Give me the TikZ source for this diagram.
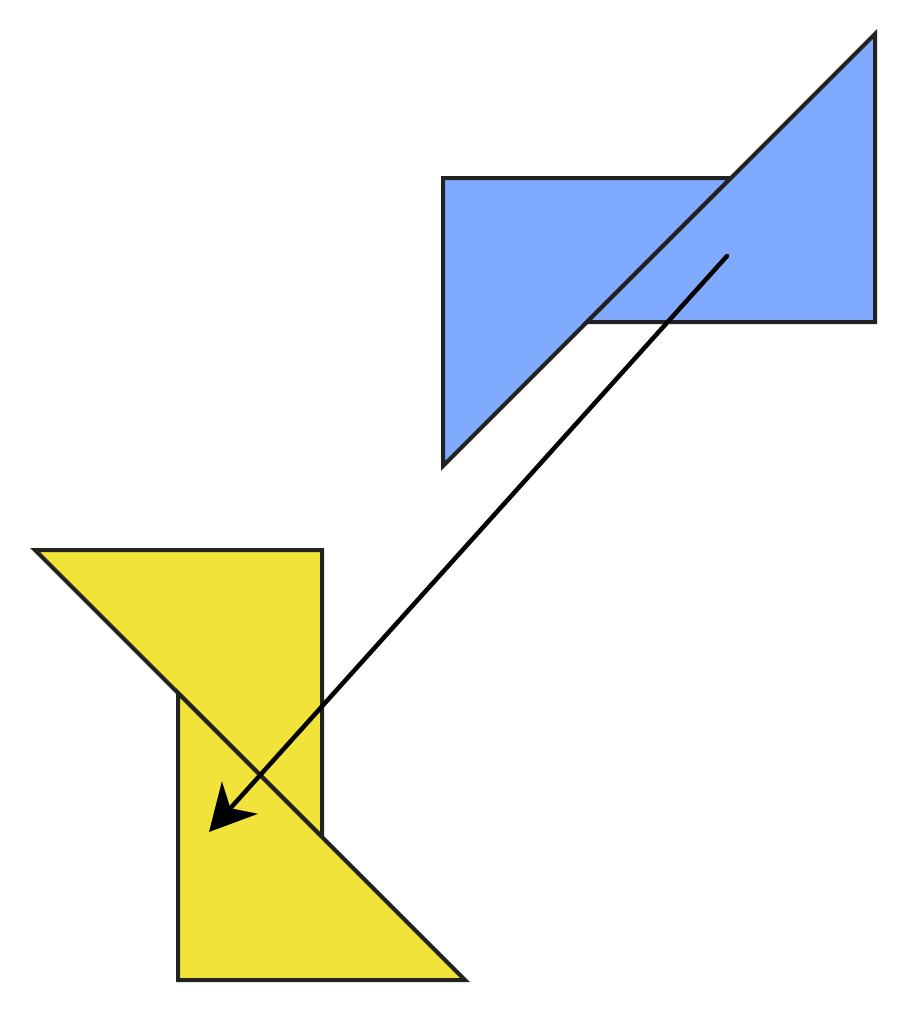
\documentclass[tikz,border=0pt]{standalone}
\usetikzlibrary{arrows.meta}
\definecolor{bluefill}{HTML}{80AAFF}
\definecolor{yellowfill}{HTML}{F2E33A}
\definecolor{edge}{HTML}{222222}
\begin{document}
\begin{tikzpicture}[x=1pt,y=-1pt,
  tri/.style={draw=edge,line width=4pt,line join=miter},
  arr/.style={draw=black,line width=4.5pt,line cap=round,-{Stealth[length=46pt,width=48pt,inset=14pt]}}]
\useasboundingbox (0,0) rectangle (910,1014);
% blue triangles
\filldraw[tri,fill=bluefill] (443,178) -- (731,178) -- (443,466) -- cycle;
\filldraw[tri,fill=bluefill] (587,322) -- (875,34) -- (875,322) -- cycle;
% yellow triangles
\filldraw[tri,fill=yellowfill] (35,550) -- (322,550) -- (322,837) -- cycle;
\filldraw[tri,fill=yellowfill] (178,693) -- (178,980) -- (465,980) -- cycle;
\coordinate (s) at (727,256);
\coordinate (e) at (209,832);
\draw[arr] (s) -- (e);
\end{tikzpicture}
\end{document}
